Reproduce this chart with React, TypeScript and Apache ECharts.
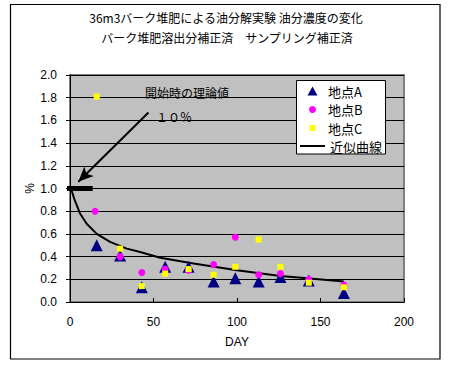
import React, { useEffect, useRef } from "react";
import * as echarts from "echarts";

const titleLines = ["36m3バーク堆肥による油分解実験 油分濃度の変化", "バーク堆肥溶出分補正済　サンプリング補正済"];
const xTicks = { min: 0, max: 200, interval: 50 };
const yTicks = { min: 0, max: 2, interval: 0.2 };

const siteA: [number, number][] = [
  [16, 0.5], [30, 0.41], [43, 0.13], [57, 0.31], [71, 0.31], [86, 0.18], [99, 0.21], [113, 0.18], [126, 0.22], [143, 0.19], [164, 0.08],
];
const siteB: [number, number][] = [
  [15, 0.8], [30, 0.4], [43, 0.26], [57, 0.29], [71, 0.28], [86, 0.33], [99, 0.57], [113, 0.24], [126, 0.25], [143, 0.2], [164, 0.15],
];
const siteC: [number, number][] = [
  [16, 1.81], [30, 0.47], [43, 0.14], [57, 0.25], [71, 0.29], [86, 0.24], [99, 0.31], [113, 0.55], [126, 0.31], [143, 0.17], [164, 0.13],
];
const curve: [number, number][] = [
  [1, 0.98], [3, 0.89], [6, 0.78], [10, 0.69], [16, 0.6], [24, 0.53], [34, 0.47], [42, 0.44], [54, 0.39], [74, 0.34],
  [100, 0.28], [126, 0.23], [142, 0.21], [164, 0.18],
];
const startMarker: [number, number][] = [[-2.4, 1.0], [13.6, 1.0]];
const arrowFrom: [number, number] = [47, 1.67];
const arrowTo: [number, number] = [5, 1.06];
const annotation = ["開始時の理論値", "１０％"];
const seriesNames = ["地点A", "地点B", "地点C", "近似曲線"];

const FONT = "'Noto Sans CJK JP', 'Liberation Sans', sans-serif";
const LATIN = "'Liberation Sans', sans-serif";

function legendItem(name: string, icon: string, w: number, h: number, cy: number, cx: number, textX: number) {
  const left = cx - w / 2;
  const pad = Math.max(0, textX - (left + w + 5));
  return {
    data: [{ name, icon }],
    orient: "vertical",
    left,
    top: cy - 7,
    padding: 0,
    itemWidth: w,
    itemHeight: h,
    z: 60,
    selectedMode: false,
    textStyle: { fontSize: 13, color: "#000", fontFamily: FONT, lineHeight: 14, padding: [0, 0, 0, pad] },
  };
}

export default function App() {
  const ref = useRef<HTMLDivElement>(null);
  useEffect(() => {
    if (!ref.current) return;
    const chart = echarts.init(ref.current, undefined, { renderer: "svg" });
    chart.setOption({
      animation: false,
      backgroundColor: "#ffffff",
      textStyle: { fontFamily: FONT },
      graphic: [
        {
          type: "rect",
          shape: { x: 10.5, y: 4.5, width: 429.5, height: 354.5 },
          style: { fill: "none", stroke: "#000", lineWidth: 1.2 },
          z: -1,
        },
        {
          type: "rect",
          z: 50,
          shape: { x: 296.5, y: 80.5, width: 89, height: 73.5 },
          style: { fill: "#fff", stroke: "#000", lineWidth: 1 },
        },
        {
          type: "text",
          x: 226,
          y: 11,
          style: { text: titleLines[0], font: `12px ${FONT}`, fill: "#000", textAlign: "center" },
        },
        {
          type: "text",
          x: 227,
          y: 31,
          style: { text: titleLines[1], font: `12px ${FONT}`, fill: "#000", textAlign: "center" },
        },
        {
          type: "text",
          x: 145,
          y: 86,
          z: 10,
          style: { text: annotation[0], font: `12px ${FONT}`, fill: "#000" },
        },
        {
          type: "text",
          x: 156,
          y: 110,
          z: 10,
          style: { text: annotation[1], font: `12px ${FONT}`, fill: "#000" },
        },
      ],
      grid: {
        left: 70,
        right: 46,
        top: 75,
        bottom: 64,
        show: true,
        backgroundColor: "#c0c0c0",
        borderColor: "#808080",
        borderWidth: 2,
      },
      legend: [
        legendItem(seriesNames[0], "triangle", 10, 9, 91, 312.5, 328),
        legendItem(seriesNames[1], "circle", 7, 7, 109.5, 312.5, 328),
        legendItem(seriesNames[2], "rect", 6, 6, 128, 312.5, 328),
        legendItem(seriesNames[3], "rect", 25, 2, 146, 312.5, 328),
      ],
      xAxis: {
        type: "value",
        min: xTicks.min,
        max: xTicks.max,
        interval: xTicks.interval,
        name: "DAY",
        nameLocation: "middle",
        nameGap: 34,
        nameMoveOverlap: false,
        nameTextStyle: { fontSize: 12, color: "#000", fontFamily: LATIN },
        axisLine: { show: true, lineStyle: { color: "#000", width: 1 } },
        axisTick: { show: true, inside: true, length: 4, lineStyle: { color: "#000" } },
        axisLabel: { color: "#000", fontSize: 12, margin: 14, fontFamily: LATIN },
        splitLine: { show: false },
      },
      yAxis: {
        type: "value",
        min: yTicks.min,
        max: yTicks.max,
        interval: yTicks.interval,
        name: "%",
        nameLocation: "middle",
        nameGap: 34,
        nameMoveOverlap: false,
        nameRotate: 90,
        nameTextStyle: { fontSize: 12, color: "#000", fontFamily: LATIN },
        axisLine: { show: true, lineStyle: { color: "#000", width: 1 } },
        axisTick: { show: true, inside: false, length: 4, lineStyle: { color: "#000" } },
        axisLabel: {
          color: "#000",
          fontSize: 12,
          margin: 13,
          fontFamily: LATIN,
          formatter: (v: number) => v.toFixed(1),
        },
        splitLine: { show: true, lineStyle: { color: "#000", width: 1 } },
      },
      series: [
        {
          name: seriesNames[3],
          type: "line",
          data: curve,
          symbol: "none",
          lineStyle: { color: "#000", width: 2 },
          itemStyle: { color: "#000" },
          z: 2,
        },
        {
          name: "start",
          type: "line",
          data: startMarker,
          symbol: "none",
          clip: false,
          lineStyle: { color: "#000", width: 5, cap: "butt" },
          z: 5,
          markLine: {
            silent: true,
            symbol: ["none", "arrow"],
            symbolSize: [10, 15],
            label: { show: false },
            lineStyle: { color: "#000", width: 2, type: "solid" },
            data: [[{ coord: arrowFrom }, { coord: arrowTo }]],
          },
        },
        {
          name: seriesNames[0],
          type: "scatter",
          data: siteA,
          symbol: "triangle",
          symbolSize: [12, 12],
          itemStyle: { color: "#000080", opacity: 1 },
          z: 3,
        },
        {
          name: seriesNames[1],
          type: "scatter",
          data: siteB,
          symbol: "circle",
          symbolSize: 7,
          itemStyle: { color: "#ff00ff", opacity: 1 },
          z: 4,
        },
        {
          name: seriesNames[2],
          type: "scatter",
          data: siteC,
          symbol: "rect",
          symbolSize: 6,
          itemStyle: { color: "#ffff00", opacity: 1 },
          z: 4,
        },
      ],
    });
    return () => chart.dispose();
  }, []);
  return <div ref={ref} style={{ position: "fixed", left: 0, top: 0, width: 450, height: 366 }} />;
}
